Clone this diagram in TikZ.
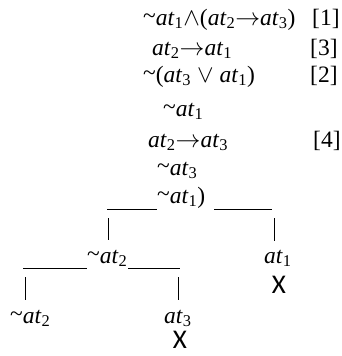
\documentclass[tikz,border=0pt]{standalone}
\usepackage{fontspec}
\setmainfont{Liberation Serif}
\newfontfamily\xfont{Carlito}
\newcommand\atv[1]{\textit{at}\textsubscript{#1}}
\newcommand\tld{\raisebox{0.15ex}{\textasciitilde}}
\begin{document}
\begin{tikzpicture}[x=1pt,y=-1pt,
  txt/.style={anchor=base west,inner sep=0pt,font=\fontsize{23.5}{26}\selectfont},
  xmark/.style={anchor=base,inner sep=0pt,font=\xfont\fontsize{27}{29}\selectfont},
  ln/.style={line width=0.9pt}]
\useasboundingbox (0,0) rectangle (342,356);
\node[txt] (l1) at (143,25) {\tld\atv{1}$\wedge$(\atv{2}$\rightarrow$\atv{3})};
\node[txt] (r1) at (312,25) {[1]};
\node[txt] (l2) at (152,55) {\atv{2}$\rightarrow$\atv{1}};
\node[txt] (r3) at (310,55) {[3]};
\node[txt] (l3) at (143,82) {\tld(\atv{3} $\vee$ \atv{1})};
\node[txt] (r2) at (310,82) {[2]};
\node[txt] (l4) at (163,116) {\tld\atv{1}};
\node[txt] (l5) at (148,147) {\atv{2}$\rightarrow$\atv{3}};
\node[txt] (r4) at (313,147) {[4]};
\node[txt] (l6) at (157,175) {\tld\atv{3}};
\node[txt] (l7) at (157,203) {\tld\atv{1})};
\node[txt] (m2) at (87,263) {\tld\atv{2}};
\node[txt] (a1) at (264,263) {\atv{1}};
\node[xmark] (x1) at (279,293) {X};
\node[txt] (b2) at (10,323) {\tld\atv{2}};
\node[txt] (a3) at (164,323) {\atv{3}};
\node[xmark] (x2) at (180,348) {X};
\draw[ln] (107,209) -- (157,209);
\draw[ln] (214,209) -- (272,209);
\draw[ln] (108,218) -- (108,240);
\draw[ln] (274,218) -- (274,241);
\draw[ln] (23,268) -- (87,268);
\draw[ln] (128,268) -- (180,268);
\draw[ln] (25,277) -- (25,300);
\draw[ln] (178,277) -- (178,300);
\end{tikzpicture}
\end{document}
